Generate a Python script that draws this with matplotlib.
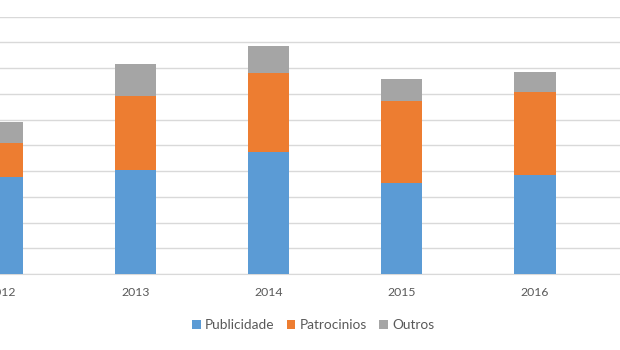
import matplotlib
matplotlib.use("Agg")
import matplotlib.pyplot as plt
import numpy as np

years = ["2012", "2013", "2014", "2015", "2016"]
publicidade = [37.7, 40.4, 47.5, 35.5, 38.6]
patrocinios = [13.2, 28.8, 30.4, 31.7, 32.2]
outros = [8.1, 12.4, 10.8, 8.5, 7.8]

plt.rcParams['font.family'] = ['Lato', 'DejaVu Sans']

fig = plt.figure(figsize=(6.2, 3.5), dpi=100)
ax = fig.add_axes([0, (350 - 274) / 350, 1, (274 - 16.5) / 350])

x = np.arange(len(years))
w = 0.308
c_blue, c_orange, c_grey = "#5B9BD5", "#ED7D31", "#A5A5A5"
p = np.array(publicidade)
q = np.array(patrocinios)
o = np.array(outros)
ax.bar(x, p, w, color=c_blue, label="Publicidade", zorder=3)
ax.bar(x, q, w, bottom=p, color=c_orange, label="Patrocinios", zorder=3)
ax.bar(x, o, w, bottom=p + q, color=c_grey, label="Outros", zorder=3)

ax.set_xlim(-0.015, 4.638)
ax.set_ylim(0, 100)
ax.set_yticks(np.arange(0, 101, 10))
ax.yaxis.grid(True, color="#D9D9D9", linewidth=1.0, zorder=0)
ax.set_yticklabels([])
ax.tick_params(axis='y', length=0)
for s in ["top", "right", "left"]:
    ax.spines[s].set_visible(False)
ax.spines["bottom"].set_color("#D9D9D9")
ax.set_xticks(x)
ax.set_xticklabels(years, fontsize=8.8, color="#595959")
ax.tick_params(axis='x', length=0, pad=9)

fig.legend(loc="center", bbox_to_anchor=(313 / 620, 1 - 325 / 350), ncol=3,
           frameon=False, fontsize=9.8, handlelength=0.65, handleheight=0.65,
           handletextpad=0.3, columnspacing=0.9, labelcolor="#595959")

fig.savefig("out.png", dpi=100)
